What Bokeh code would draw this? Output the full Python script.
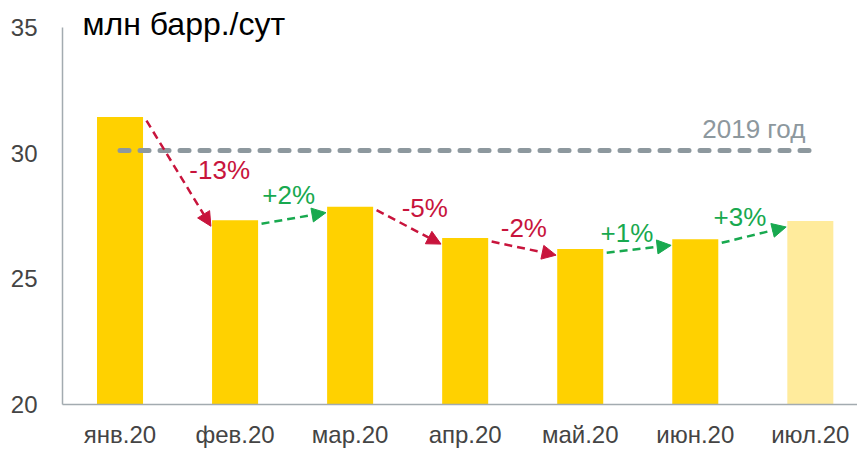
from bokeh.plotting import figure
from bokeh.models import Range1d, FixedTicker, ColumnDataSource, Arrow, NormalHead, Label, LabelSet
from bokeh.core.properties import value
from bokeh.embed import file_html
from bokeh.resources import INLINE

# ---- data ----
months = ["янв.20", "фев.20", "мар.20", "апр.20", "май.20", "июн.20", "июл.20"]
production = [31.43, 27.33, 27.87, 26.62, 26.18, 26.57, 27.30]
is_estimate = [False, False, False, False, False, False, True]
avg_2019 = 30.1
change_labels = ["-13%", "+2%", "-5%", "-2%", "+1%", "+3%"]
y_ticks = [20, 25, 30, 35]
unit_label = "млн барр./сут"
ref_label = "2019 год"

# ---- styles ----
FONT = "Liberation Sans"
BAR = "#FFD100"
BAR_EST = "#FFEB9C"
RED = "#C8143C"
GREEN = "#18A94F"
GREY = "#8D989E"
AXIS = "#A3ABB0"
TICK_TXT = "#444444"
# label offsets relative to arrow midpoints (px: right, up)
lab_dx = [41, -5, 16, 0, -12, -14]
lab_dy = [3, 23, 19, 20, 16, 18]
ARROW_GAP_START = 0.23   # x gap from bar centre (category units)
ARROW_GAP_END = 0.21
ARROW_DROP_START = 0.14  # y drop below bar top (value units)
ARROW_DROP_END = 0.24

n = len(months)
idx = list(range(n))

p = figure(width=857, height=450, x_range=Range1d(-0.5, 6.41), y_range=Range1d(20, 35.75),
           output_backend="svg", toolbar_location=None,
           min_border_left=62, min_border_top=8, min_border_right=0, min_border_bottom=0)
p.outline_line_color = None
p.xgrid.visible = False
p.ygrid.visible = False

for ax in (p.xaxis[0], p.yaxis[0]):
    ax.axis_line_color = AXIS
    ax.axis_line_width = 1.5
    ax.major_tick_line_color = None
    ax.major_tick_out = 0
    ax.major_tick_in = 0
    ax.minor_tick_line_color = None
    ax.minor_tick_out = 0
    ax.major_label_text_font = FONT
    ax.major_label_text_font_size = "24px"
    ax.major_label_text_color = TICK_TXT

p.xaxis.ticker = FixedTicker(ticks=idx)
p.xaxis.major_label_overrides = {i: m for i, m in enumerate(months)}
p.xaxis.major_label_standoff = 16
p.yaxis.ticker = FixedTicker(ticks=y_ticks)
p.yaxis.bounds = (y_ticks[0], y_ticks[-1])
p.yaxis.major_label_standoff = 25

bars = ColumnDataSource(dict(x=idx, top=production,
                             color=[BAR_EST if e else BAR for e in is_estimate]))
p.vbar(x="x", top="top", bottom=y_ticks[0], width=0.4, fill_color="color", line_color=None, source=bars)

# 2019 average line
p.line(x=[idx[0], idx[-1]], y=[avg_2019, avg_2019], line_width=5, line_color=GREY,
       line_dash="9 11", line_cap="round")
p.add_layout(Label(x=idx[-1], y=avg_2019, text=ref_label, x_offset=-5, y_offset=22,
                   text_align="right", text_baseline="alphabetic",
                   text_font=FONT, text_font_size="26px", text_color=GREY))

# change arrows
mx, my, cols = [], [], []
for i in range(n - 1):
    c = RED if change_labels[i].startswith("-") else GREEN
    x0, y0 = i + ARROW_GAP_START, production[i] - ARROW_DROP_START
    x1, y1 = i + 1 - ARROW_GAP_END, production[i + 1] - ARROW_DROP_END
    p.add_layout(Arrow(x_start=x0, y_start=y0, x_end=x1, y_end=y1,
                       line_color=c, line_width=2.5, line_dash="8 5",
                       end=NormalHead(size=14, fill_color=c, line_color=c, line_width=1)))
    mx.append((x0 + x1) / 2)
    my.append((y0 + y1) / 2)
    cols.append(c)

lab_src = ColumnDataSource(dict(x=mx, y=my, text=change_labels, color=cols, dx=lab_dx, dy=lab_dy))
p.add_layout(LabelSet(x="x", y="y", text="text", x_offset="dx", y_offset="dy", source=lab_src,
                      text_align="center", text_baseline="middle", text_color="color",
                      text_font=value(FONT), text_font_size="26px"))

# unit title
p.add_layout(Label(x=-0.5, y=y_ticks[-1], text=unit_label, x_offset=20, y_offset=3,
                   text_align="left", text_baseline="alphabetic",
                   text_font=FONT, text_font_size="32px", text_color="#000000"))

open("out.html", "w").write(file_html(p, INLINE))
